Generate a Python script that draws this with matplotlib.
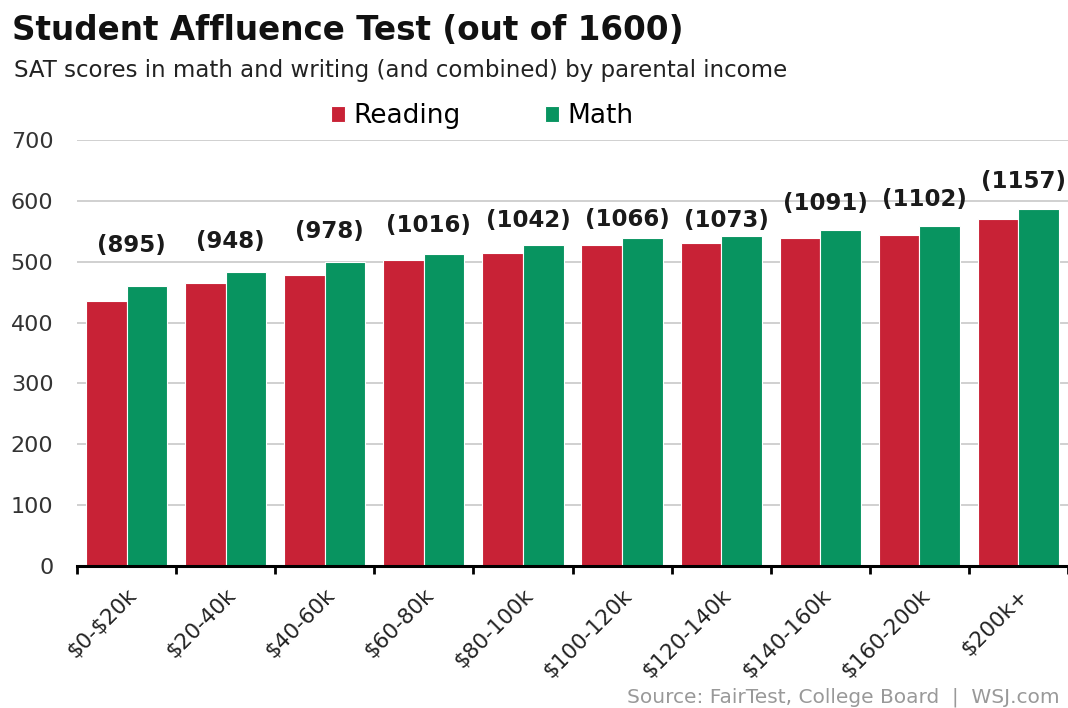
import matplotlib.pyplot as plt
import numpy as np

plt.rcParams["font.family"] = ["DejaVu Sans"]

income = ["\\$0-\\$20k", "\\$20-40k", "\\$40-60k", "\\$60-80k", "\\$80-100k",
          "\\$100-120k", "\\$120-140k", "\\$140-160k", "\\$160-200k", "\\$200k+"]
reading = [435, 465, 478, 503, 515, 527, 530, 539, 544, 570]
math = [460, 483, 500, 513, 527, 539, 543, 552, 558, 587]
combined = [895, 948, 978, 1016, 1042, 1066, 1073, 1091, 1102, 1157]

# hand-placed heights of the combined labels (data units)
label_y = [526, 534, 549, 560, 568, 570, 567, 595, 603, 631]

red = "#C82236"
green = "#089460"

fig = plt.figure(figsize=(10.68, 7.08), dpi=100)
ax = fig.add_axes([77 / 1068, 142 / 708, 1 - 77 / 1068, 426 / 708])

x = np.arange(len(income))
w = 0.41
b1 = ax.bar(x - 0.205, reading, width=w, color=red, edgecolor="white",
            linewidth=0.8, label="Reading", zorder=2)
b2 = ax.bar(x + 0.205, math, width=w, color=green, edgecolor="white",
            linewidth=0.8, label="Math", zorder=2)

for xi, c, ly in zip(x, combined, label_y):
    ax.text(xi + 0.05, ly, f"({c})", ha="center", va="center",
            fontsize=16.5, fontweight="bold", color="#1a1a1a")

ax.set_xlim(-0.5, 9.41)
ax.set_ylim(0, 700)
ax.set_yticks(range(0, 701, 100))
ax.yaxis.grid(True, color="#c8c8c8", linewidth=1.2, zorder=0)
ax.set_axisbelow(True)
ax.tick_params(axis="y", length=0, pad=17, labelsize=16, labelcolor="#333333")

ax.set_xticks(np.arange(-0.5, 10, 1))
ax.set_xticklabels([])
ax.set_xticks(x, minor=True)
ax.set_xticklabels(income, minor=True, rotation=45, ha="right",
                   rotation_mode="anchor", fontsize=15.5, color="#222222")
ax.tick_params(axis="x", which="major", length=6, width=2, color="black")
ax.tick_params(axis="x", which="minor", length=0, pad=14)

for s in ["top", "right", "left"]:
    ax.spines[s].set_visible(False)
ax.spines["bottom"].set_linewidth(2.2)
ax.spines["bottom"].set_color("black")

fig.text(12 / 1068, 1 - 30 / 708, "Student Affluence Test (out of 1600)",
         fontsize=23.5, fontweight="bold", va="center", color="#111111")
fig.text(14 / 1068, 1 - 71 / 708,
         "SAT scores in math and writing (and combined) by parental income",
         fontsize=16.5, va="center", color="#222222")

fig.legend(handles=[b1, b2], loc="center",
           bbox_to_anchor=(482 / 1068, 1 - 116 / 708), ncol=2, frameon=False,
           fontsize=19, handlelength=0.55, handleheight=0.55,
           handletextpad=0.3, columnspacing=3.2)

fig.text(627 / 1068, 1 - 697 / 708,
         "Source: FairTest, College Board  |  WSJ.com",
         fontsize=14.5, color="#999999", va="center")

fig.savefig("out.png", dpi=100)
